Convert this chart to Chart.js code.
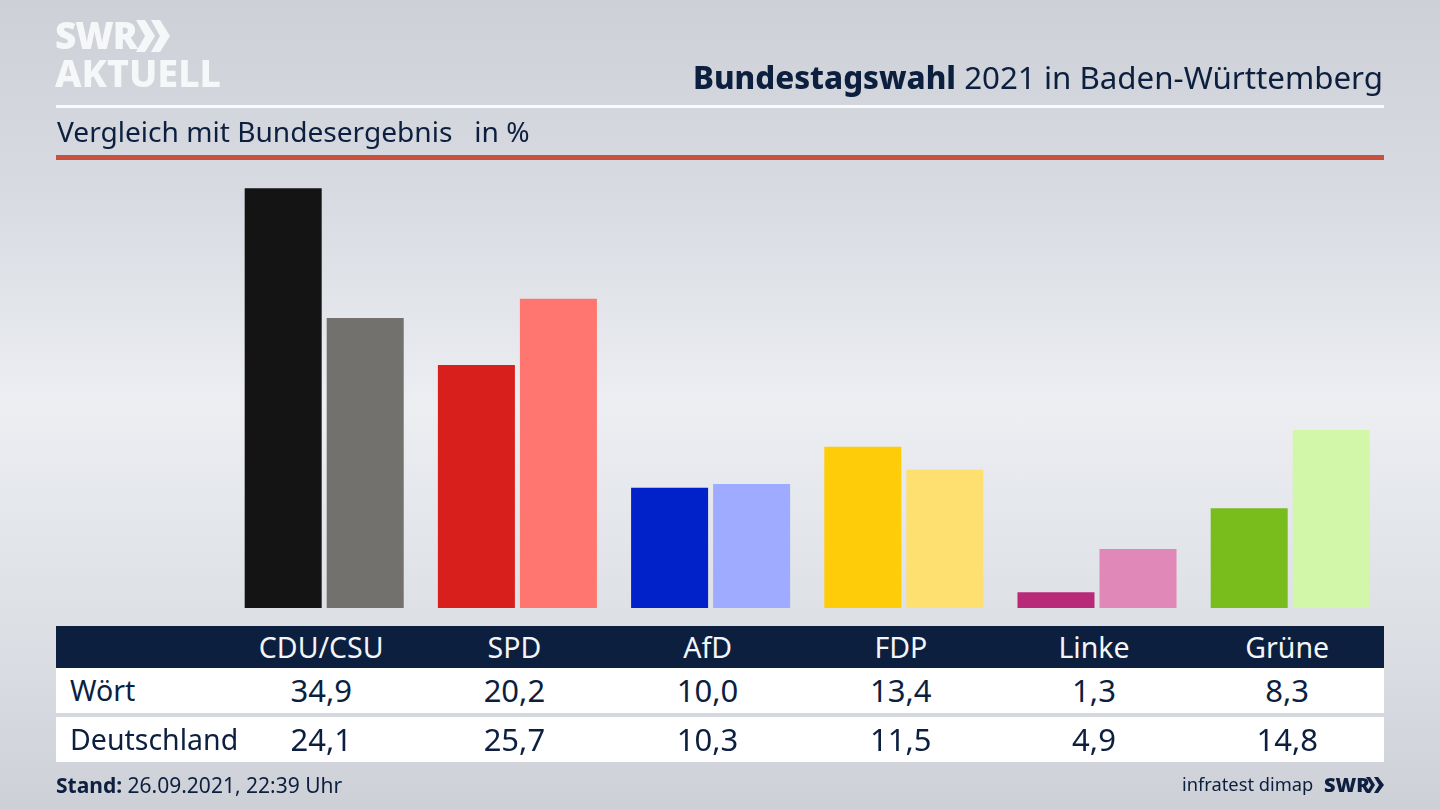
<!DOCTYPE html>
<html lang="de">
<head>
<meta charset="utf-8">
<title>Bundestagswahl 2021 in Baden-Württemberg</title>
<script src="https://cdn.jsdelivr.net/npm/chart.js@4/dist/chart.umd.min.js"></script>
<style>
    html, body { margin: 0; padding: 0; }
    body {
        width: 1440px;
        height: 810px;
        overflow: hidden;
        position: relative;
        font-family: "Noto Sans", sans-serif;
        color: #0c1f3f;
        background: linear-gradient(to bottom, #cdd0d7 0%, #d8dbe1 25%, #eceef2 50%, #dcdfe4 78%, #cdd0d7 100%);
    }
    #chart { position: absolute; left: 0; top: 0; }
    .abs { position: absolute; white-space: nowrap; }
    .logo { color: #f6f7f9; font-weight: 900; left: 55px; }
    #title { right: 57px; top: 55px; font-size: 31.3px; line-height: 44px; }
    #title b { font-weight: 800; }
    #subtitle { left: 57px; top: 110px; font-size: 28.1px; line-height: 42px; }
    .rule { position: absolute; left: 56px; width: 1328px; }
    .band { position: absolute; left: 56px; width: 1328px; }
    .cell { position: absolute; transform: translateX(-50%); white-space: nowrap; font-size: 28.5px; line-height: 42px; }
    .cell.value { font-size: 31px; }
    .rowname { position: absolute; left: 70px; white-space: nowrap; font-size: 28.5px; line-height: 42px; }
    #stand { left: 56px; top: 770px; font-size: 21px; line-height: 30px; }
    #source { left: 1182px; top: 769px; font-size: 18.3px; line-height: 30px; }
    #swr { left: 1324px; top: 770px; font-size: 20px; line-height: 30px; font-weight: 900; }
</style>
</head>
<body>
<canvas id="chart" width="1440" height="810"></canvas>

<div class="abs logo" style="top:12px;font-size:37px;line-height:46px;letter-spacing:-1px;">SWR</div>
<svg class="abs" style="left:136px;top:20px" width="36" height="32"><polygon fill="#f6f7f9" points="0,0 9,0 19,16 9,32 0,32 9,16"/><polygon fill="#f6f7f9" points="15,0 24,0 34,16 24,32 15,32 24,16"/></svg>
<div class="abs logo" style="top:50px;font-size:37.6px;line-height:46px;font-weight:800;">AKTUELL</div>

<div id="title" class="abs"><b>Bundestagswahl</b> 2021 in Baden-Württemberg</div>
<div class="rule" style="top:105px;height:3px;background:#fbfbfc"></div>
<div id="subtitle" class="abs">Vergleich mit Bundesergebnis &nbsp; in %</div>
<div class="rule" style="top:155px;height:5px;background:#c8503d"></div>

<div class="band" style="top:626px;height:42px;background:#0c1f3f"></div>
<div class="band" style="top:668px;height:45px;background:#fff"></div>
<div class="band" style="top:717px;height:45px;background:#fff"></div>
<div id="table"></div>

<div id="stand" class="abs"><b>Stand:</b> 26.09.2021, 22:39 Uhr</div>
<div id="source" class="abs">infratest dimap</div>
<div id="swr" class="abs">SWR</div>
<svg class="abs" style="left:1366px;top:777px" width="19" height="16"><polygon fill="#0c1f3f" points="0,0 4,0 9,8 4,16 0,16 5,8"/><polygon fill="#0c1f3f" points="8,0 12,0 18,8 12,16 8,16 13,8"/></svg>

<script>
    // Chart data
    const parties = ["CDU/CSU", "SPD", "AfD", "FDP", "Linke", "Grüne"];
    const woertValues = [34.9, 20.2, 10.0, 13.4, 1.3, 8.3];
    const deutschlandValues = [24.1, 25.7, 10.3, 11.5, 4.9, 14.8];
    const woertColors = ["#141414", "#d81f1c", "#0022c8", "#ffcc0a", "#b82a78", "#79bd1c"];
    const deutschlandColors = ["#72716e", "#ff7570", "#9eabff", "#fee071", "#e088b8", "#d3f7a8"];

    const chart = new Chart(document.getElementById("chart"), {
        type: "bar",
        data: {
            labels: parties,
            datasets: [
                { label: "Wört", data: woertValues, backgroundColor: woertColors },
                { label: "Deutschland", data: deutschlandValues, backgroundColor: deutschlandColors }
            ]
        },
        options: {
            responsive: false,
            animation: false,
            categoryPercentage: 0.849,
            barPercentage: 0.939,
            layout: { padding: { left: 227.6, right: 53.2, top: 187, bottom: 202 } },
            scales: {
                x: { display: false },
                y: { display: false, min: 0, max: 35 }
            },
            plugins: {
                legend: { display: false },
                tooltip: { enabled: false }
            }
        }
    });

    // Table under the chart, columns follow the x scale but sit a bit left of the bars
    const table = document.getElementById("table");
    const columnShift = -3;

    function addCell(text, x, top, color, className) {
        const cell = document.createElement("div");
        cell.className = className;
        cell.style.left = x + "px";
        cell.style.top = top + "px";
        cell.style.color = color;
        cell.textContent = text;
        table.appendChild(cell);
    }

    function addRowName(text, top) {
        const name = document.createElement("div");
        name.className = "rowname";
        name.style.top = top + "px";
        name.textContent = text;
        table.appendChild(name);
    }

    const formatValue = (value) => value.toFixed(1).replace(".", ",");

    parties.forEach((party, i) => {
        const x = chart.scales.x.getPixelForValue(i) + columnShift;
        addCell(party, x, 626, "#f4f5f7", "cell");
        addCell(formatValue(woertValues[i]), x, 669, "#0c1f3f", "cell value");
        addCell(formatValue(deutschlandValues[i]), x, 718, "#0c1f3f", "cell value");
    });

    addRowName("Wört", 669);
    addRowName("Deutschland", 718);
</script>
</body>
</html>
